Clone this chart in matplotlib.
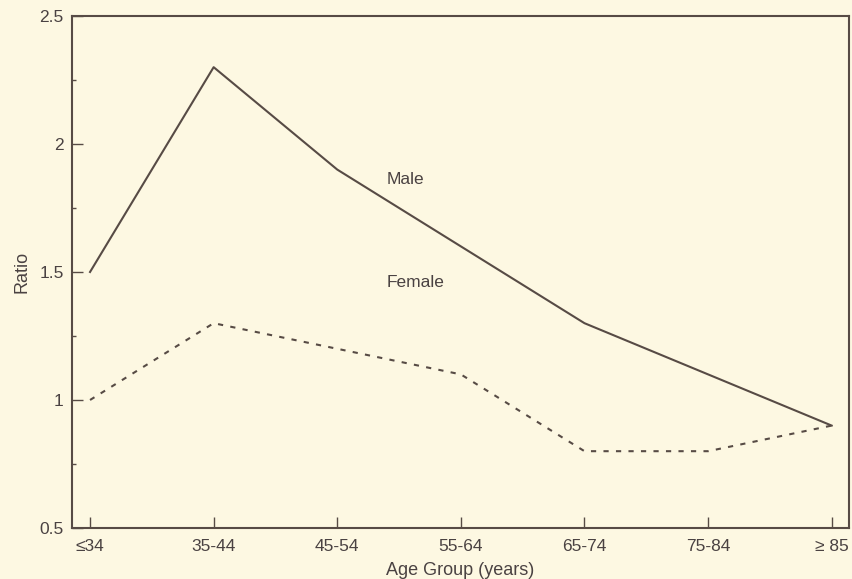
import matplotlib.pyplot as plt
from matplotlib.ticker import MultipleLocator

plt.rcParams['font.family'] = ['Liberation Sans', 'DejaVu Sans']

# Data
age_groups = ['≤34', '35-44', '45-54', '55-64', '65-74', '75-84', '≥ 85']
male = [1.5, 2.3, 1.9, 1.6, 1.3, 1.1, 0.9]
female = [1.0, 1.3, 1.2, 1.1, 0.8, 0.8, 0.9]
y_ticks = [0.5, 1, 1.5, 2, 2.5]
y_labels = ['0.5', '1', '1.5', '2', '2.5']

bg = '#fdf8e2'
ink = '#574b45'
txt = '#4a4242'

fig = plt.figure(figsize=(8.53, 5.79), dpi=100, facecolor=bg)
ax = fig.add_axes([0.0844, 0.0881, 0.9109, 0.8843], facecolor=bg)

x = list(range(len(age_groups)))
ax.plot(x, male, color=ink, linewidth=1.5)
ax.plot(x, female, color=ink, linewidth=1.5, linestyle=(0, (2.5, 3.5)))

ax.text(2.555, 1.86, 'Male', ha='center', va='center', fontsize=12.5, color=txt)
ax.text(2.63, 1.457, 'Female', ha='center', va='center', fontsize=12.5, color=txt)

ax.set_xlim(-0.146, 6.14)
ax.set_ylim(0.5, 2.5)
ax.set_xticks(x)
ax.set_xticklabels(age_groups)
ax.set_yticks(y_ticks)
ax.set_yticklabels(y_labels)
ax.yaxis.set_minor_locator(MultipleLocator(0.25))

ax.tick_params(axis='both', which='major', direction='in', length=8, width=1,
               color=ink, labelsize=12.5, labelcolor=txt)
ax.tick_params(axis='x', which='major', pad=8)
ax.tick_params(axis='y', which='major', pad=6)
ax.tick_params(axis='y', which='minor', direction='in', length=3, width=1, color=ink)

for s in ax.spines.values():
    s.set_color(ink)
    s.set_linewidth(1.5)

ax.set_xlabel('Age Group (years)', fontsize=13, color=txt, labelpad=6)
ax.set_ylabel('Ratio', fontsize=13, color=txt, labelpad=6)

fig.savefig('out.png', dpi=100, facecolor=bg)
